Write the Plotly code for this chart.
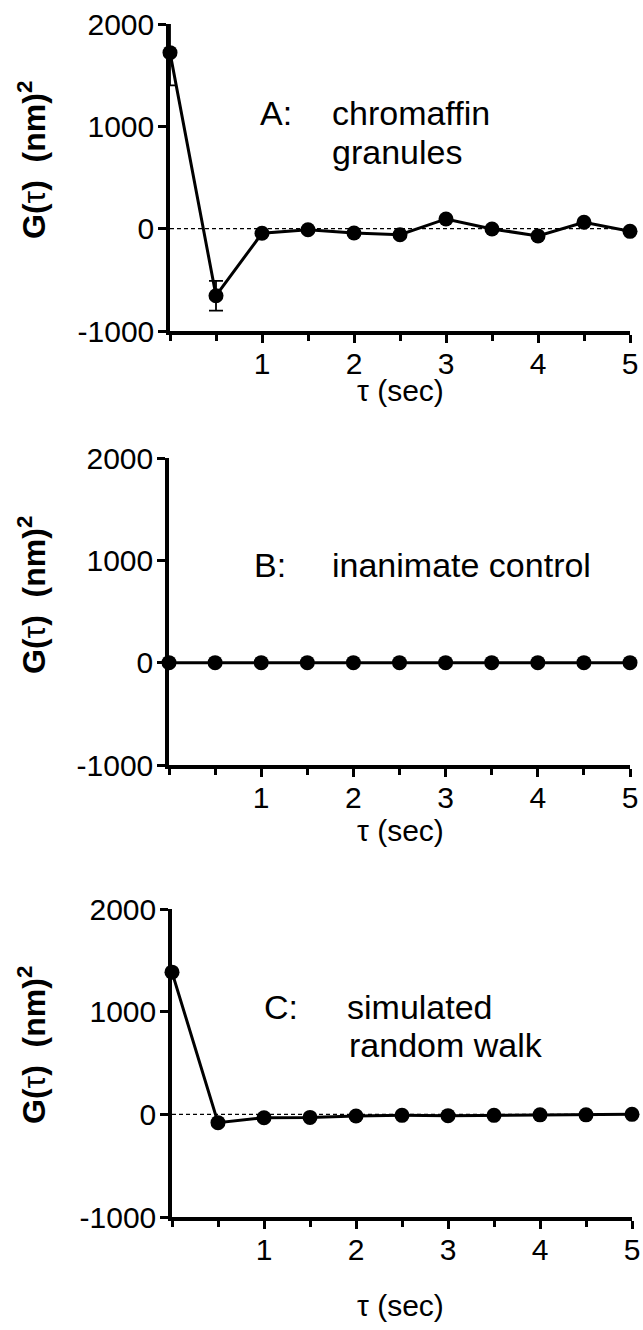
import plotly.graph_objects as go

tau = [0, 0.5, 1, 1.5, 2, 2.5, 3, 3.5, 4, 4.5, 5]
g_a = [1720, -655, -45, -10, -42, -59, 95, -3, -71, 62, -26]
err_a = [320, 145, 0, 0, 0, 0, 0, 0, 0, 0, 0]
g_b = [0, 0, 0, 0, 0, 0, 0, 0, 0, 0, 0]
g_c = [1385, -81, -33, -30, -16, -10, -13, -10, -5, -5, 0]

y_ticks = [-1000, 0, 1000, 2000]
y_ticktext = ["-1000", "0", "1000", "2000"]
x_major = [1, 2, 3, 4, 5]
x_major_text = ["1", "2", "3", "4", "5"]
x_minor = [0, 0.5, 1.5, 2.5, 3.5, 4.5]

W, H = 643, 1330
FONT = "Liberation Sans, Arial, Helvetica, sans-serif"

def px(x):
    return x / W

def py(y):
    return 1 - y / H

panels = [
    dict(x0=170, x1=630, top=24, bot=331, data=g_a, err=err_a, dashed=True),
    dict(x0=169, x1=630, top=458, bot=765, data=g_b, err=None, dashed=False),
    dict(x0=172, x1=632, top=909, bot=1217, data=g_c, err=None, dashed=True),
]

fig = go.Figure()
shapes = []
for i, p in enumerate(panels):
    n = "" if i == 0 else str(i + 1)
    xa, ya = "x" + n, "y" + n
    if p["dashed"]:
        shapes.append(dict(type="line", xref=xa + " domain", yref=ya, x0=0, x1=1, y0=0, y1=0,
                           line=dict(color="black", width=1.2, dash="4px,3px"), layer="below"))
    if p["err"] is not None:
        fig.add_trace(go.Scatter(x=tau, y=p["data"], xaxis=xa, yaxis=ya, mode="markers",
                                 marker=dict(size=1, opacity=0),
                                 error_y=dict(type="data", array=p["err"], visible=True,
                                              color="black", thickness=1.8, width=7),
                                 cliponaxis=True, showlegend=False, hoverinfo="skip"))
    fig.add_trace(go.Scatter(x=tau, y=p["data"], xaxis=xa, yaxis=ya, mode="lines+markers",
                             line=dict(color="black", width=3),
                             marker=dict(color="black", size=15),
                             cliponaxis=False, showlegend=False))

layout = dict(width=W, height=H, margin=dict(l=0, r=0, t=0, b=0, autoexpand=False),
              paper_bgcolor="white", plot_bgcolor="white",
              font=dict(family=FONT, color="black"), shapes=shapes)

for i, p in enumerate(panels):
    n = "" if i == 0 else str(i + 1)
    layout["xaxis" + n] = dict(
        domain=[px(p["x0"]), px(p["x1"])], anchor="y" + n, range=[0, 5], automargin=False,
        showline=True, linecolor="black", linewidth=3.5, showgrid=False, zeroline=False,
        tickmode="array", tickvals=x_major, ticktext=x_major_text,
        ticks="outside", ticklen=8, tickwidth=3, tickcolor="black",
        tickfont=dict(size=30, family=FONT), ticklabelstandoff=-5,
        minor=dict(tickmode="array", tickvals=x_minor, ticks="outside", ticklen=6,
                   tickwidth=3, tickcolor="black", showgrid=False),
    )
    layout["yaxis" + n] = dict(
        domain=[py(p["bot"]), py(p["top"])], anchor="x" + n, range=[-1000, 2000], automargin=False,
        showline=True, linecolor="black", linewidth=3.5, showgrid=False, zeroline=False,
        tickmode="array", tickvals=y_ticks, ticktext=y_ticktext,
        ticks="outside", ticklen=8, tickwidth=3, tickcolor="black",
        tickfont=dict(size=30, family=FONT), ticklabelstandoff=-2,
    )

fig.update_layout(**layout)

ann = []
def add_text(x, y, text, size=34, xanchor="left", angle=0):
    ann.append(dict(x=px(x), y=py(y), xref="paper", yref="paper", text=text, showarrow=False,
                    xanchor=xanchor, yanchor="middle", textangle=angle, align="left",
                    font=dict(size=size, family=FONT, color="black")))

ylab = "<b>G(</b>\u03c4<b>)\u00a0\u00a0(nm)<sup>2</sup></b>"
for yc in (160, 595, 1045):
    add_text(32, yc, ylab, size=32, xanchor="center", angle=-90)

add_text(258, 113, "A:")
add_text(330, 113, "chromaffin")
add_text(330, 152, "granules")
add_text(252, 565, "B:")
add_text(330, 565, "inanimate control")
add_text(262, 1007, "C:")
add_text(345, 1007, "simulated")
add_text(347, 1045, "random walk")

for yc in (391, 830, 1305):
    add_text(400, yc, "\u03c4\u00a0(sec)", size=30, xanchor="center")

fig.update_layout(annotations=ann)
fig.write_html("out.html")
